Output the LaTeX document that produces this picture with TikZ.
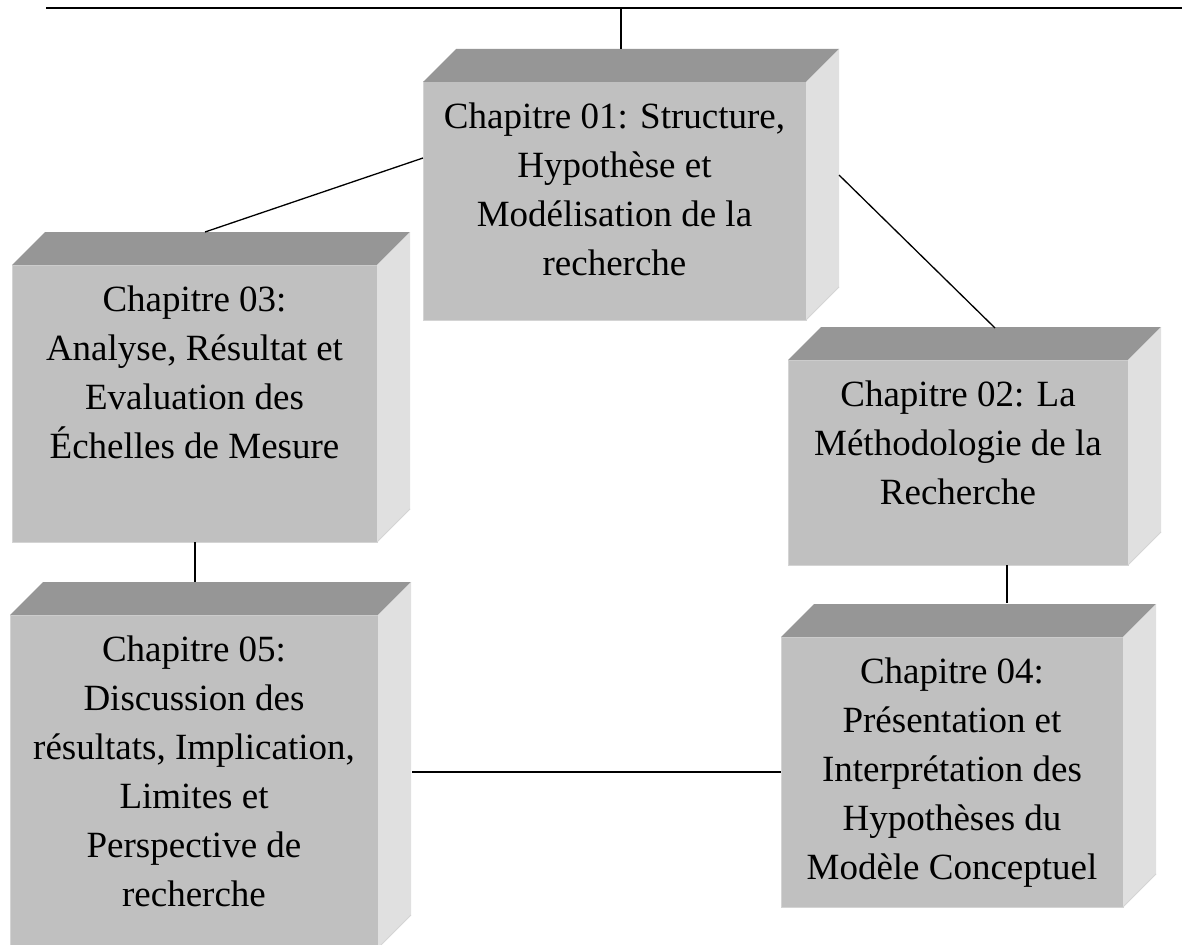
\documentclass[tikz,border=0pt]{standalone}
\usepackage{fontspec}
\setmainfont{Liberation Serif}
\usetikzlibrary{calc}

\definecolor{frontc}{RGB}{192,192,192}
\definecolor{topc}{RGB}{150,150,150}
\definecolor{sidec}{RGB}{224,224,224}
\definecolor{edgec}{RGB}{212,212,212}

% front face text: fixed-size box, lines centred and set from the top
\newcommand{\chaptext}[3]{%
  \parbox[c][#2pt][t]{#1pt}{\centering\fontsize{37}{49}\selectfont
    \vspace*{21pt}#3}}

% top and right faces of a block whose front face is node #1
\newcommand{\blockfaces}[1]{%
  \fill[topc] (#1.north west) -- ++(33,-33)
      -- ($(#1.north east)+(33,-33)$) -- (#1.north east) -- cycle;
  \fill[sidec] (#1.north east) -- ++(33,-33)
      -- ($(#1.south east)+(33,-33)$) -- (#1.south east) -- cycle;
  \draw[edgec, line width=0.8pt] (#1.south east) -- ++(33,-33);
}

\tikzset{
  front/.style={fill=frontc, draw=edgec, line width=1pt, inner sep=0pt,
                outer sep=0pt, text=black},
  link/.style={draw=black, line width=1.3pt}
}

\begin{document}
\begin{tikzpicture}[x=1pt, y=-1pt]
  \useasboundingbox (0,0) rectangle (1182,944);
  \clip (0,0) rectangle (1182,944);
  \fill[white] (0,0) rectangle (1182,944);

  % front faces
  \node[front] (b1) at (614.5,201) {\chaptext{383}{238}{Chapitre 01: Structure,\\ Hypothèse et\\ Modélisation de la\\ recherche}};
  \node[front] (b3) at (194.5,403.5) {\chaptext{365}{277}{Chapitre 03:\\ Analyse, Résultat et\\ Evaluation des\\ Échelles de Mesure}};
  \node[front] (b2) at (958,462.5) {\chaptext{340}{205}{Chapitre 02: La\\ Méthodologie de la\\ Recherche}};
  \node[front] (b4) at (952,772) {\chaptext{342}{270}{Chapitre 04:\\ Présentation et\\ Interprétation des\\ Hypothèses du\\ Modèle Conceptuel}};
  \node[front] (b5) at (194,781.5) {\chaptext{368}{333}{Chapitre 05:\\ Discussion des\\ résultats, Implication,\\ Limites et\\ Perspective de\\ recherche}};

  % depth faces
  \blockfaces{b1}
  \blockfaces{b3}
  \blockfaces{b2}
  \blockfaces{b4}
  \blockfaces{b5}

  % rule at the top
  \coordinate (ruleL) at (46,8);
  \coordinate (ruleR) at (1182,8);
  \draw[link, line width=1.6pt] (ruleL) -- (ruleR);
  \coordinate (ruleT) at ($(b1.north west)+(198,0)$);
  \draw[link] (ruleT |- ruleL) -- ($(b1.north west)+(198,-33)$);

  % links between chapters
  \draw[link] ($(b1.north west)+(0,76)$) -- ($(b3.north west)+(193,-33)$);
  \draw[link] ($(b1.north east)+(33,93)$) -- ($(b2.north west)+(207,-32)$);
  \draw[link] ($(b3.south west)+(183,0)$) -- ($(b5.north west)+(185,-33)$);
  \draw[link] ($(b2.south west)+(219,0)$) -- ($(b4.north west)+(226,-34)$);
  \draw[link] ($(b5.north east)+(34,157)$) -- (b4.west);
\end{tikzpicture}
\end{document}
